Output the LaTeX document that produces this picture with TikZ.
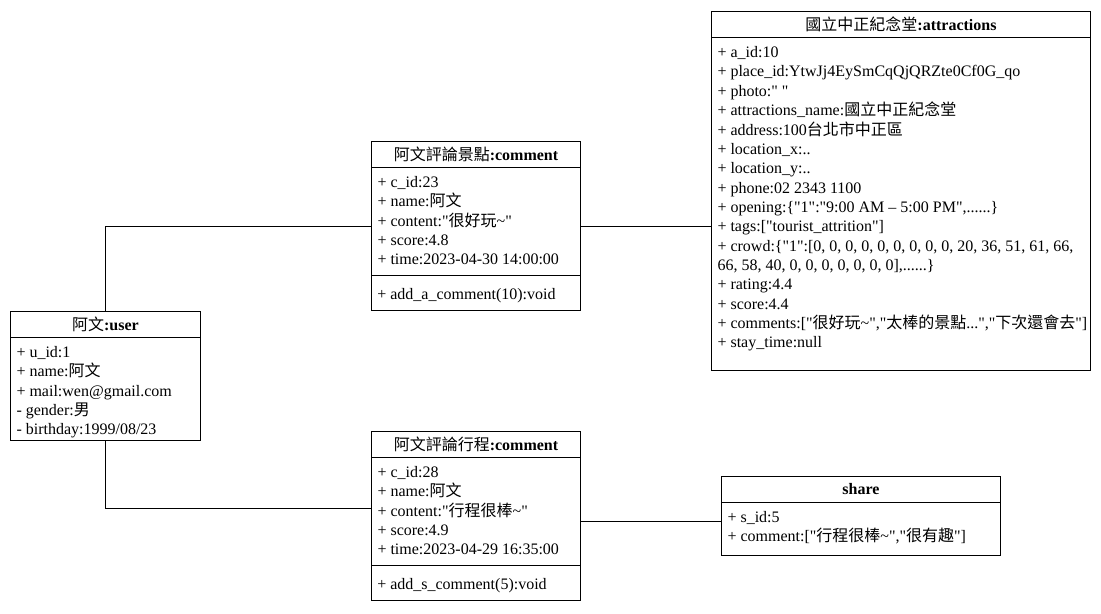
\documentclass[tikz,border=0pt]{standalone}
\usepackage{fontspec}
\setmainfont{Liberation Serif}[Ligatures=TeXOff]
\newfontfamily\cjk{Noto Sans CJK TC}
\newcommand{\zh}[1]{{\cjk #1}}
\usetikzlibrary{positioning}

\tikzset{
  cls/.style={draw, line width=0.75pt, anchor=north west, inner sep=0pt},
  ttl/.style={minimum height=19.5pt, inner sep=0pt, font=\fontsize{12}{14.5}\selectfont},
  attrs/.style={anchor=base west, inner sep=0pt, font=\fontsize{12}{14.5}\selectfont},
  sep/.style={line width=0.75pt},
  elbow/.style={to path={|- (\tikztotarget)}}
}

\begin{document}
\begin{tikzpicture}[x=0.75pt, y=-0.75pt]
\useasboundingbox (0,0) rectangle (1101,614);

\begin{scope}[every node/.style=cls]
    \node[minimum width=142.5pt, minimum height=96.75pt] (user) at (10,311) {};
    \node[minimum width=156.75pt, minimum height=126.75pt] (c1) at (371,141) {};
    \node[minimum width=284.25pt, minimum height=269.25pt] (attr) at (711,11) {};
    \node[minimum width=156.75pt, minimum height=126.75pt] (c2) at (371,431) {};
    \node[minimum width=209.25pt, minimum height=59.25pt] (share) at (721,476) {};
\end{scope}

% titles
\node[ttl, minimum width=142.5pt, below=0pt of user.north] (userT) {\zh{阿文}\textbf{:user}};
\node[ttl, minimum width=156.75pt, below=0pt of c1.north] (c1T) {\zh{阿文評論景點}\textbf{:comment}};
\node[ttl, minimum width=284.25pt, below=0pt of attr.north] (attrT) {\zh{國立中正紀念堂}\textbf{:attractions}};
\node[ttl, minimum width=156.75pt, below=0pt of c2.north] (c2T) {\zh{阿文評論行程}\textbf{:comment}};
\node[ttl, minimum width=209.25pt, below=0pt of share.north] (shareT) {\textbf{share}};

\draw[sep] (userT.south west) -- (userT.south east);
\draw[sep] (c1T.south west) -- (c1T.south east);
\draw[sep] (attrT.south west) -- (attrT.south east);
\draw[sep] (c2T.south west) -- (c2T.south east);
\draw[sep] (shareT.south west) -- (shareT.south east);
\draw[sep] ([yshift=-100.5pt]c1.north west) -- ([yshift=-100.5pt]c1.north east);
\draw[sep] ([yshift=-100.5pt]c2.north west) -- ([yshift=-100.5pt]c2.north east);

% attributes
\node[attrs] (userA) at ([xshift=4.5pt, yshift=-15pt]userT.south west) {\begin{tabular}[t]{@{}l@{}}
+ u\_id:1\\
+ name:\zh{阿文}\\
+ mail:wen@gmail.com\\
- gender:\zh{男}\\
- birthday:1999/08/23
\end{tabular}};

\node[attrs] (c1A) at ([xshift=4.5pt, yshift=-15pt]c1T.south west) {\begin{tabular}[t]{@{}l@{}}
+ c\_id:23\\
+ name:\zh{阿文}\\
+ content:"\zh{很好玩}\textasciitilde"\\
+ score:4.8\\
+ time:2023-04-30 14:00:00
\end{tabular}};
\node[attrs] (c1M) at ([xshift=4.5pt, yshift=-119pt]c1.north west) {+ add\_a\_comment(10):void};

\node[attrs] (attrA) at ([xshift=4.5pt, yshift=-15pt]attrT.south west) {\begin{tabular}[t]{@{}l@{}}
+ a\_id:10\\
+ place\_id:YtwJj4EySmCqQjQRZte0Cf0G\_qo\\
+ photo:" "\\
+ attractions\_name:\zh{國立中正紀念堂}\\
+ address:100\zh{台北市中正區}\\
+ location\_x:..\\
+ location\_y:..\\
+ phone:02 2343 1100\\
+ opening:\{"1":"9:00 AM – 5:00 PM",......\}\\
+ tags:["tourist\_attrition"]\\
+ crowd:\{"1":[0, 0, 0, 0, 0, 0, 0, 0, 0, 20, 36, 51, 61, 66,\\
66, 58, 40, 0, 0, 0, 0, 0, 0, 0],......\}\\
+ rating:4.4\\
+ score:4.4\\
+ comments:["\zh{很好玩}\textasciitilde","\zh{太棒的景點}...","\zh{下次還會去}"]\\
+ stay\_time:null
\end{tabular}};

\node[attrs] (c2A) at ([xshift=4.5pt, yshift=-15pt]c2T.south west) {\begin{tabular}[t]{@{}l@{}}
+ c\_id:28\\
+ name:\zh{阿文}\\
+ content:"\zh{行程很棒}\textasciitilde"\\
+ score:4.9\\
+ time:2023-04-29 16:35:00
\end{tabular}};
\node[attrs] (c2M) at ([xshift=4.5pt, yshift=-119pt]c2.north west) {+ add\_s\_comment(5):void};

\node[attrs] (shareA) at ([xshift=4.5pt, yshift=-15pt]shareT.south west) {\begin{tabular}[t]{@{}l@{}}
+ s\_id:5\\
+ comment:["\zh{行程很棒}\textasciitilde","\zh{很有趣}"]
\end{tabular}};

% links
\begin{scope}[every edge/.style={draw, line width=0.75pt}]
    \path (user.north) edge[elbow] (c1.west);
    \path (c1.east) edge (c1.east -| attr.west);
    \path (user.south) edge[elbow] ([yshift=5.6pt]c2.west);
    \path ([yshift=-4pt]c2.east) edge ([yshift=-4pt]share.west);
\end{scope}
\end{tikzpicture}
\end{document}
